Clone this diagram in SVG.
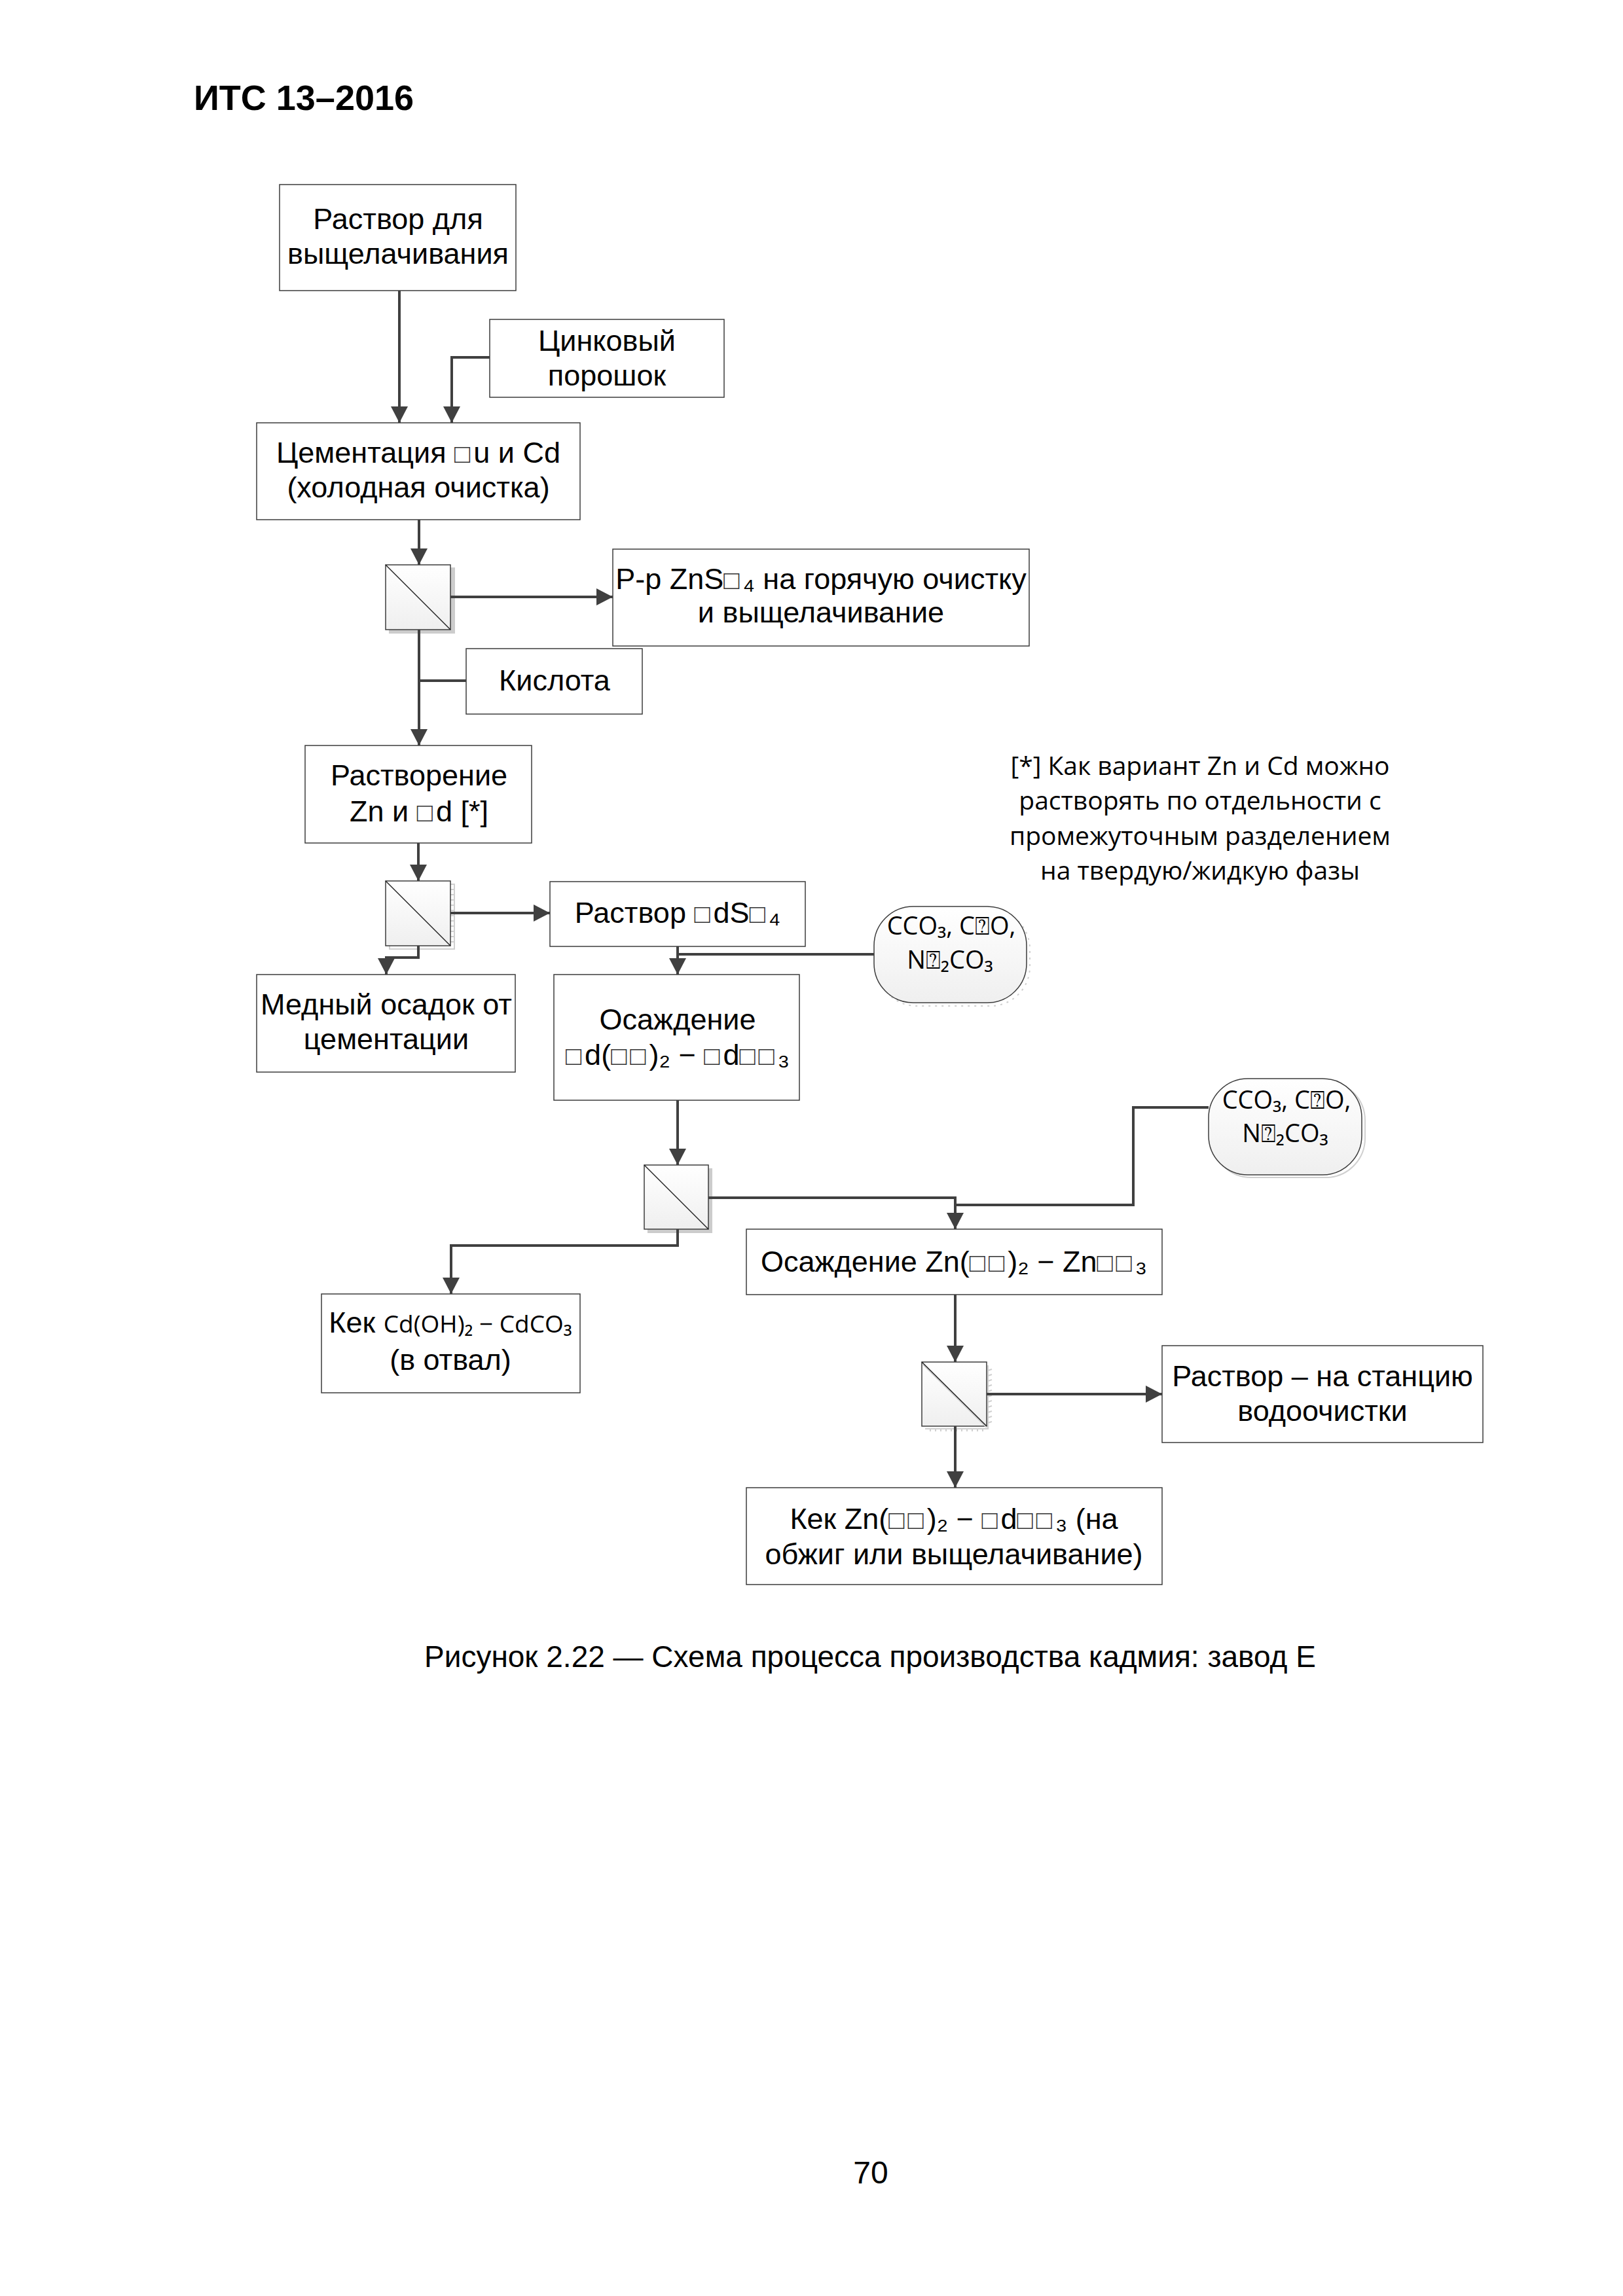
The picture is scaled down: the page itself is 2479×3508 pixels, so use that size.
<svg xmlns="http://www.w3.org/2000/svg" width="2479" height="3508" viewBox="0 0 2479 3508">
<style>
text{font-family:"Liberation Sans",Arial,"DejaVu Sans",sans-serif;font-size:45px;fill:#000;text-anchor:middle}
.h{font-weight:bold;font-size:54px;text-anchor:start}
.c{font-size:46px;text-anchor:start}
.n{font-family:"Open Sans","Noto Sans",sans-serif;font-size:39px}
.o{font-family:"Open Sans","DejaVu Sans",sans-serif;font-size:38px}
.k{font-family:"Open Sans","Noto Sans",sans-serif;font-size:37px}
.t{letter-spacing:5px;fill:#333;font-size:40px}
.box{fill:#fff;stroke:#3c3c3c;stroke-width:1.5}
.sep{fill:url(#g);stroke:#3c3c3c;stroke-width:1.5}
.pill{fill:url(#g);stroke:#3c3c3c;stroke-width:1.5}
.diag{stroke:#222;stroke-width:1.5;fill:none}
.shadow{fill:#ccc}
.lad{fill:none;stroke:#d0d0d0;stroke-width:2}
#connectors path{fill:none;stroke:#404040;stroke-width:4}
#connectors .a{marker-end:url(#ah)}
</style>
<defs>
<linearGradient id="g" x1="0" y1="0" x2="0" y2="1"><stop offset="0" stop-color="#fff"/><stop offset="1" stop-color="#efefef"/></linearGradient>
<marker id="ah" markerUnits="userSpaceOnUse" markerWidth="28" markerHeight="28" refX="25" refY="13" orient="auto"><path d="M0 0L25 13L0 26z" fill="#404040"/></marker>
</defs>
<rect width="2479" height="3508" fill="#fff"/>
<text class="h" x="296" y="168">ИТС 13–2016</text>
<g id="n1"><rect class="box" x="427" y="282" width="361" height="162"/><text x="608" y="350">Раствор для</text><text x="608" y="403">выщелачивания</text></g>
<g id="n2"><rect class="box" x="748" y="488" width="358" height="119"/><text x="927" y="536">Цинковый</text><text x="927" y="589">порошок</text></g>
<g id="n3"><rect class="box" x="392" y="646" width="494" height="148"/><text x="639" y="707">Цементация <tspan class="t">□</tspan>u и Cd</text><text x="639" y="760">(холодная очистка)</text></g>
<g id="sep1"><rect class="shadow" x="594" y="867" width="101" height="101"/><rect class="sep" x="589" y="863" width="99" height="99"/><path class="diag" d="M589 863L688 962"/></g>
<g id="n4"><rect class="box" x="936" y="839" width="636" height="148"/><text x="1254" y="900">Р-р ZnS<tspan class="t">□</tspan>₄ на горячую очистку</text><text x="1254" y="951">и выщелачивание</text></g>
<g id="n5"><rect class="box" x="712" y="991" width="269" height="100"/><text x="847" y="1055">Кислота</text></g>
<g id="n6"><rect class="box" x="466" y="1139" width="346" height="149"/><text x="640" y="1200">Растворение</text><text x="640" y="1255">Zn и <tspan class="t">□</tspan>d [*]</text></g>
<g id="sep2"><rect class="lad" x="595" y="1351" width="99" height="99"/><path class="lad" d="M688 1359H694M688 1367H694M688 1375H694M688 1383H694M688 1391H694M688 1399H694M688 1407H694M688 1415H694M688 1423H694M688 1431H694M688 1439H694"/><rect class="sep" x="589" y="1346" width="99" height="99"/><path class="diag" d="M589 1346L688 1445"/></g>
<g id="n7"><rect class="box" x="840" y="1347" width="390" height="99"/><text x="1035" y="1410">Раствор <tspan class="t">□</tspan>dS<tspan class="t">□</tspan>₄</text></g>
<g id="n8"><rect class="box" x="392" y="1489" width="395" height="149"/><text x="590" y="1550">Медный осадок от</text><text x="590" y="1603">цементации</text></g>
<g id="n9"><rect class="box" x="846" y="1489" width="375" height="192"/><text x="1035" y="1573">Осаждение</text><text x="1035" y="1627"><tspan class="t">□</tspan>d(<tspan class="t">□□</tspan>)₂ − <tspan class="t">□</tspan>d<tspan class="t">□□</tspan>₃</text></g>
<g id="pill1"><rect class="lad" x="1340" y="1390" width="233" height="147" rx="60" ry="60" stroke-dasharray="3 7"/><rect class="pill" x="1335" y="1385" width="233" height="147" rx="60" ry="60"/><text class="o" x="1453" y="1428">CCO₃, C⍰O,</text><text class="o" x="1451" y="1480">N⍰₂CO₃</text></g>
<g id="sep3"><rect class="shadow" x="989" y="1785" width="99" height="99"/><rect class="sep" x="984" y="1780" width="98" height="98"/><path class="diag" d="M984 1780L1082 1878"/></g>
<g id="n10"><rect class="box" x="1140" y="1878" width="635" height="100"/><text x="1457" y="1943">Осаждение Zn(<tspan class="t">□□</tspan>)₂ − Zn<tspan class="t">□□</tspan>₃</text></g>
<g id="pill2"><rect class="lad" x="1851" y="1652" width="234" height="147" rx="60" ry="60"/><rect class="pill" x="1846" y="1648" width="234" height="147" rx="60" ry="60"/><text class="o" x="1965" y="1694">CCO₃, C⍰O,</text><text class="o" x="1963" y="1745">N⍰₂CO₃</text></g>
<g id="n11"><rect class="box" x="491" y="1977" width="395" height="151"/><text x="688" y="2036">Кек <tspan class="k">Cd(OH)₂ − CdCO₃</tspan></text><text x="688" y="2093">(в отвал)</text></g>
<g id="sep4"><path class="lad" d="M1509 2086V2183H1413M1509 2094L1515 2092M1509 2102L1515 2100M1509 2110L1515 2108M1509 2118L1515 2116M1509 2126L1515 2124M1509 2134L1515 2132M1509 2142L1515 2140M1509 2150L1515 2148M1509 2158L1515 2156M1509 2166L1515 2164M1509 2174L1515 2172M1421 2183V2187M1429 2183V2187M1437 2183V2187M1445 2183V2187M1453 2183V2187M1461 2183V2187M1469 2183V2187M1477 2183V2187M1485 2183V2187M1493 2183V2187M1501 2183V2187"/><rect class="sep" x="1408" y="2081" width="99" height="98"/><path d="M1410 2085L1507 2181" class="lad" stroke-width="2"/><path class="diag" d="M1408 2081L1507 2179"/></g>
<g id="n12"><rect class="box" x="1775" y="2056" width="490" height="148"/><text x="2020" y="2118">Раствор – на станцию</text><text x="2020" y="2171">водоочистки</text></g>
<g id="n13"><rect class="box" x="1140" y="2273" width="635" height="148"/><text x="1457" y="2336">Кек Zn(<tspan class="t">□□</tspan>)₂ − <tspan class="t">□</tspan>d<tspan class="t">□□</tspan>₃ (на</text><text x="1457" y="2390">обжиг или выщелачивание)</text></g>
<g id="note"><text class="n" x="1833" y="1184">[*] Как вариант Zn и Cd можно</text><text class="n" x="1833" y="1237">растворять по отдельности с</text><text class="n" x="1833" y="1291">промежуточным разделением</text><text class="n" x="1833" y="1344">на твердую/жидкую фазы</text></g>
<text class="c" x="648" y="2547">Рисунок 2.22 — Схема процесса производства кадмия: завод Е</text>
<text x="1330" y="3336" style="font-size:48px">70</text>
<g id="connectors">
<path class="a" d="M610 444V646"/>
<path class="a" d="M748 546H690V646"/>
<path class="a" d="M640 794V863"/>
<path class="a" d="M688 912H936"/>
<path class="a" d="M640 962V1139"/>
<path d="M640 1040H712"/>
<path class="a" d="M639 1288V1346"/>
<path class="a" d="M688 1395H840"/>
<path class="a" d="M639 1445V1463H590V1489"/>
<path class="a" d="M1035 1446V1489"/>
<path d="M1335 1458H1035"/>
<path class="a" d="M1035 1681V1780"/>
<path class="a" d="M1082 1830H1459V1878"/>
<path d="M1846 1692H1731V1841H1459"/>
<path class="a" d="M1035 1878V1903H689V1977"/>
<path class="a" d="M1459 1978V2081"/>
<path class="a" d="M1507 2130H1775"/>
<path class="a" d="M1459 2179V2273"/>
</g>
</svg>
